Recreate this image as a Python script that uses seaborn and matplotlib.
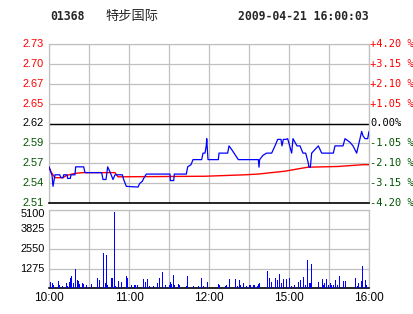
import numpy as np
import pandas as pd
import matplotlib
matplotlib.use("Agg")
import matplotlib.pyplot as plt
import seaborn as sns

# ---------------- data ----------------
code = "01368"
name = "特步国际"
stamp = "2009-04-21 16:00:03"
prev_close = 2.62

price_ticks = [2.73, 2.70, 2.67, 2.65, 2.62, 2.59, 2.57, 2.54, 2.51]
pct_labels = ["+4.20 %", "+3.15 %", "+2.10 %", "+1.05 %", "0.00%",
              "-1.05 %", "-2.10 %", "-3.15 %", "-4.20 %"]
vol_ticks = [1275, 2550, 3825, 5100]
time_labels = ["10:00", "11:00", "12:00", "15:00", "16:00"]
time_pos = [0, 60, 120, 180, 240]   # trading minutes

# price line vertices (trading minute, price)
price_min = [0, 2.3, 3, 4.5, 8, 9, 10.5, 11, 13.5, 14, 16, 16.5, 19.5, 20, 26, 27,
             39.5, 40.5, 42.75, 44, 45.75, 48, 49.5, 55, 56, 58, 66.75, 68, 70, 71,
             73, 90.75, 91, 93.5, 94, 103, 104, 106.5, 108, 114.5, 115.5, 117, 118,
             118.3, 118.75, 119.25, 127, 127.5, 134, 135, 137, 142, 157, 157.5, 158,
             160.5, 163.25, 167, 169.5, 171.5, 174, 174.75, 175.75, 177.75, 179, 182,
             183, 186, 188.25, 190.5, 192.5, 194.25, 195, 196, 197, 202, 204.5,
             213.25, 214.5, 220.5, 222, 225.75, 228, 230.75, 232, 234.5, 235.5, 237,
             239, 240]
price_val = [2.560, 2.548, 2.533, 2.549, 2.549, 2.545, 2.545, 2.549, 2.549, 2.544,
             2.544, 2.549, 2.549, 2.560, 2.560, 2.552, 2.552, 2.5425, 2.5425, 2.560,
             2.553, 2.5425, 2.549, 2.549, 2.5425, 2.533, 2.532, 2.537, 2.540, 2.544,
             2.550, 2.550, 2.541, 2.541, 2.550, 2.550, 2.560, 2.563, 2.570, 2.570,
             2.579, 2.579, 2.590, 2.599, 2.585, 2.570, 2.570, 2.579, 2.579, 2.589,
             2.584, 2.570, 2.570, 2.5595, 2.570, 2.576, 2.579, 2.579, 2.589, 2.598,
             2.598, 2.589, 2.598, 2.598, 2.599, 2.579, 2.599, 2.589, 2.589, 2.579,
             2.579, 2.567, 2.5595, 2.5595, 2.579, 2.589, 2.579, 2.579, 2.589, 2.589,
             2.599, 2.594, 2.589, 2.579, 2.589, 2.609, 2.603, 2.599, 2.599, 2.609]

# average price line vertices
avg_min = [0, 1.5, 4.5, 10.5, 13, 19.5, 25.5, 49.5, 51.75, 117, 147, 156.75, 177,
           194, 216.75, 235.5, 240]
avg_val = [2.5595, 2.553, 2.545, 2.545, 2.548, 2.551, 2.552, 2.552, 2.5462, 2.547,
           2.549, 2.550, 2.554, 2.5595, 2.5605, 2.563, 2.563]

# volume bars (trading minute, volume)
vol_min = [0, 1, 1.5, 2.5, 3.5, 4.5, 6, 7, 8, 9, 10, 12, 13, 14, 15.5, 16.25, 17,
           18.5, 19.75, 21.25, 22, 23, 24, 25, 26, 27, 28.25, 30, 30.75, 31.75,
           36.25, 37.75, 39, 40.75, 42.25, 43.25, 44, 47, 47.75, 49, 49.75, 52, 54.5,
           58, 59, 60, 62, 64, 65, 66.25, 70.75, 72.25, 73.75, 75.25, 78.25, 81.25,
           82.75, 85, 87.25, 90.25, 91, 92, 93.25, 94.25, 97, 97.75, 103, 103.75,
           108.25, 112, 114.5, 115.75, 117, 117.75, 118.75, 120.75, 127, 127.75,
           132.25, 133.25, 135.25, 140, 141.5, 142.75, 143.75, 145.75, 148.25,
           150.25, 151.25, 153.25, 154, 156.25, 157.25, 158, 163.75, 165.25, 166.75,
           169.75, 171.25, 172.75, 174.25, 175.75, 177, 178, 180.25, 181.75, 183,
           184.25, 185.25, 187, 188.5, 190.75, 192.25, 193.75, 195.25, 196, 196.75,
           202, 205, 205.75, 206.75, 208, 209.5, 211, 212, 213.25, 214.75, 216.25,
           217.75, 220.75, 222.25, 229.75, 231.25, 232.25, 234.25, 235.25, 237.25,
           238.25, 239.25, 240]
vol_val = [427, 427, 362, 323, 213, 149, 601, 472, 213, 1395, 149, 278, 362, 149,
           427, 646, 795, 362, 1247, 536, 472, 278, 323, 323, 278, 491, 194, 1137,
           213, 278, 665, 536, 427, 2300, 323, 2151, 213, 665, 665, 4929, 149, 472,
           427, 795, 646, 278, 213, 213, 213, 213, 601, 427, 601, 149, 149, 362,
           665, 1053, 213, 213, 427, 278, 859, 213, 278, 213, 149, 795, 149, 149,
           645, 150, 213, 365, 430, 150, 280, 213, 150, 213, 580, 580, 150, 537,
           213, 322, 150, 213, 213, 213, 213, 150, 280, 322, 1118, 645, 430, 645,
           537, 925, 365, 580, 213, 580, 688, 150, 213, 213, 150, 430, 537, 752,
           213, 1828, 322, 365, 1570, 430, 602, 213, 322, 602, 213, 322, 213, 213,
           537, 213, 795, 495, 495, 667, 150, 365, 495, 1440, 537, 190, 280, 430]

# ---------------- figure ----------------
sns.set_theme(style="white")
plt.rcParams["font.family"] = ["Liberation Sans", "DejaVu Sans"]

W, H = 414, 314
fig = plt.figure(figsize=(W / 100, H / 100), dpi=100)
fig.patch.set_facecolor("white")

L, R = 49, 369
ax = fig.add_axes([L / W, 1 - 203 / H, (R - L) / W, (203 - 44) / H])
axv = fig.add_axes([L / W, 1 - 288.3 / H, (R - L) / W, (288.3 - 209.5) / H])

grid_c = "#c0c0c0"
red = "#ff0000"
green = "#005500"

# price panel
lo, hi = prev_close * (1 - 0.042), prev_close * (1 + 0.042)
ytick_pos = [prev_close * (1 + k * 0.0105) for k in range(4, -5, -1)]
for y in ytick_pos:
    ax.axhline(y, color=grid_c, lw=0.9, zorder=0)
for xp in range(0, 241, 30):
    ax.axvline(xp, color=grid_c, lw=0.9, zorder=0)
ax.axhline(prev_close, color="black", lw=1.0, zorder=1)

df_p = pd.DataFrame({"m": price_min, "p": price_val})
df_a = pd.DataFrame({"m": avg_min, "p": avg_val})
sns.lineplot(data=df_a, x="m", y="p", ax=ax, color=red, lw=1.0, sort=False,
             estimator=None, zorder=3)
sns.lineplot(data=df_p, x="m", y="p", ax=ax, color="#0000ff", lw=0.9, sort=False,
             estimator=None, zorder=4)
ax.set_xlim(0, 240)
ax.set_ylim(lo, hi)
ax.set_xlabel("")
ax.set_ylabel("")
ax.set_xticks([])
ax.set_yticks([])
for s in ["left", "top", "right"]:
    ax.spines[s].set_color(grid_c)
    ax.spines[s].set_linewidth(0.9)
ax.spines["bottom"].set_color("black")
ax.spines["bottom"].set_linewidth(1.2)

for i, (yp, lab, plab) in enumerate(zip(ytick_pos, price_ticks, pct_labels)):
    c = red if i < 4 else ("black" if i == 4 else green)
    ax.text(-4, yp, f"{lab:.2f}", color=c, ha="right", va="center", fontsize=7.9,
            transform=ax.transData, clip_on=False)
    ax.text(241, yp, plab, color=c, ha="left", va="center", fontsize=7.5,
            family="DejaVu Sans Mono", clip_on=False)

# volume panel
for v in vol_ticks:
    axv.axhline(v, color=grid_c, lw=0.9, zorder=0)
for xp in range(0, 241, 30):
    axv.axvline(xp, color=grid_c, lw=0.9, zorder=0)
axv.bar(vol_min, vol_val, width=0.65, color="#0000ff", zorder=3, linewidth=0)
axv.set_xlim(0, 240)
axv.set_ylim(0, 5100)
axv.set_yticks([])
axv.set_xticks([])
for s in ["left", "top", "right"]:
    axv.spines[s].set_color(grid_c)
    axv.spines[s].set_linewidth(0.9)
axv.spines["bottom"].set_color("black")
axv.spines["bottom"].set_linewidth(1.2)
for v in vol_ticks:
    yv = v if v < 5100 else 4800
    axv.text(-3, yv, str(v), ha="right", va="center", fontsize=7.9, color="black",
             clip_on=False)
for tp, tl in zip(time_pos, time_labels):
    axv.text(tp, -640, tl, ha="center", va="center", fontsize=8.5, color="black",
             clip_on=False)

# header
fig.text(50 / W, 1 - 17 / H, code, fontsize=8.3, fontweight="bold",
         family="DejaVu Sans Mono", va="center", ha="left")
fig.text(105 / W, 1 - 16 / H, name, fontsize=9.5,
         family=["Noto Sans CJK SC", "DejaVu Sans"], va="center", ha="left")
fig.text(238 / W, 1 - 17 / H, stamp, fontsize=8.3, fontweight="bold",
         family="DejaVu Sans Mono", va="center", ha="left")

fig.savefig("out.png", dpi=100)
